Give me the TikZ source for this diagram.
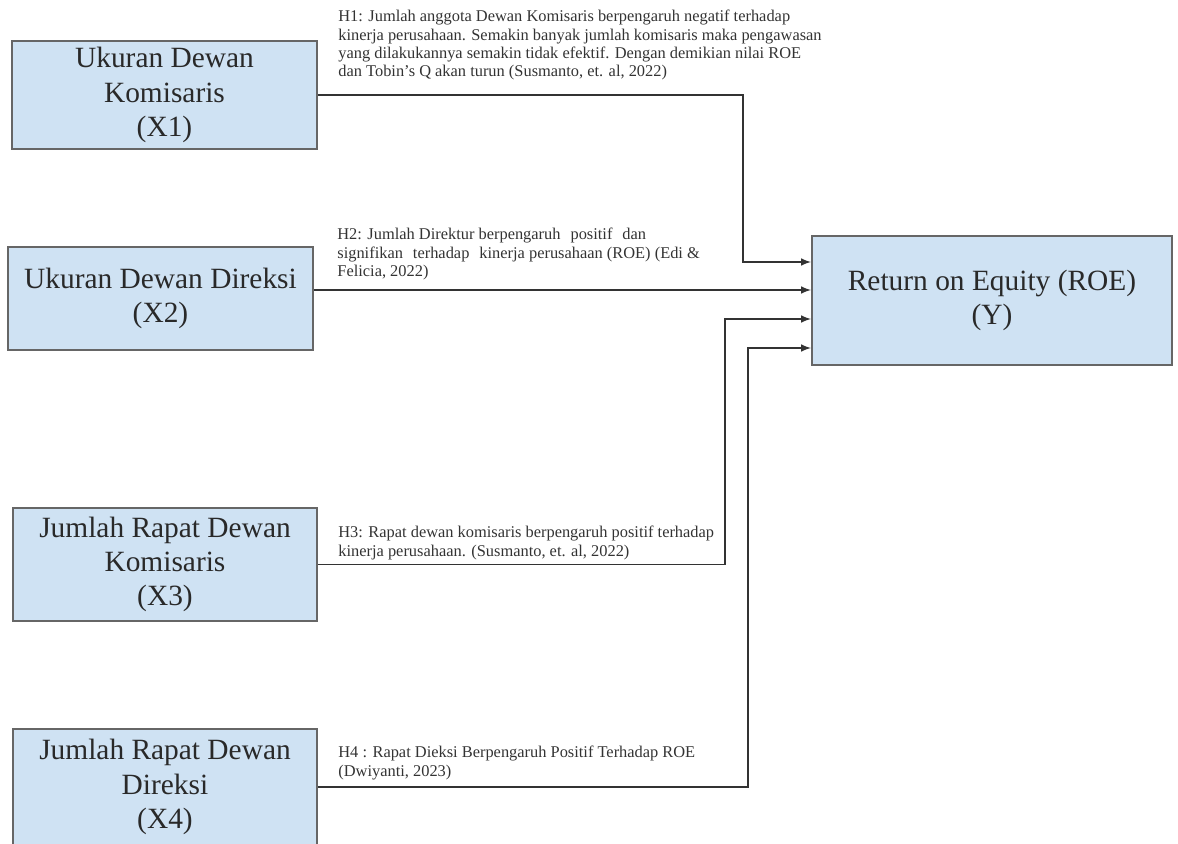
\documentclass[tikz,border=0pt]{standalone}
\usepackage{fontspec}
\setmainfont{Liberation Serif}
\usepackage{xcolor}
\definecolor{boxblue}{HTML}{CFE2F3}
\definecolor{boxline}{HTML}{666666}
\definecolor{ink}{HTML}{333333}

\begin{document}
\begin{tikzpicture}[x=0.5pt,y=-0.5pt,
    var/.style={draw=boxline,line width=1pt,fill=boxblue,text=ink!80!black,align=center,font=\fontsize{14.7}{17.2}\selectfont,inner sep=0pt},
    link/.style={draw=ink,line width=0.7pt,-latex},
    hyp/.style={anchor=north west,align=left,text=ink,font=\fontsize{8.2}{9.1}\selectfont,inner sep=0pt}]
		\clip (0,0) rectangle (1178,844);
		\node[var,minimum width=152.5pt,minimum height=54pt]   (x1) at (164.5,95)  {Ukuran Dewan\\Komisaris\\(X1)};
		\node[var,minimum width=152.5pt,minimum height=51.5pt] (x2) at (160.5,298.5) {Ukuran Dewan Direksi\\(X2)};
		\node[var,minimum width=152pt,minimum height=56.5pt]   (x3) at (165,564.5) {Jumlah Rapat Dewan\\Komisaris\\(X3)};
		\node[var,minimum width=152pt,minimum height=58pt]     (x4) at (165,787)   {Jumlah Rapat Dewan\\Direksi\\(X4)};
		\node[var,minimum width=180pt,minimum height=64.5pt]   (y)  at (992,300.5) {Return on Equity (ROE)\\(Y)};
		\coordinate (p1) at (743,262);
		\coordinate (p2) at (743,290);
		\coordinate (p3) at (725,319);
		\coordinate (p4) at (748,348);
		\draw[link] (x1.east) -| (p1) -- (p1 -| y.west);
		\draw[link] (p2 -| x2.east) -- (p2 -| y.west);
		\draw[link] (x3.east) -| (p3) -- (p3 -| y.west);
		\draw[link] (x4.east) -| (p4) -- (p4 -| y.west);
		\node[hyp] (h1) at (338,10) {H1: Jumlah anggota Dewan Komisaris berpengaruh negatif terhadap\\kinerja perusahaan. Semakin banyak jumlah komisaris maka pengawasan\\yang dilakukannya semakin tidak efektif. Dengan demikian nilai ROE\\dan Tobin's Q akan turun (Susmanto, et. al, 2022)};
		\node[hyp] (h2) at (337,228) {H2: Jumlah Direktur berpengaruh\hspace{5pt}positif\hspace{5pt}dan\\signifikan\hspace{5pt}terhadap\hspace{5pt}kinerja perusahaan (ROE) (Edi \&\\Felicia, 2022)};
		\node[hyp] (h3) at (338,526) {H3: Rapat dewan komisaris berpengaruh positif terhadap\\kinerja perusahaan. (Susmanto, et. al, 2022)};
		\node[hyp] (h4) at (338,746) {H4 : Rapat Dieksi Berpengaruh Positif Terhadap ROE\\(Dwiyanti, 2023)};
\end{tikzpicture}
\end{document}
